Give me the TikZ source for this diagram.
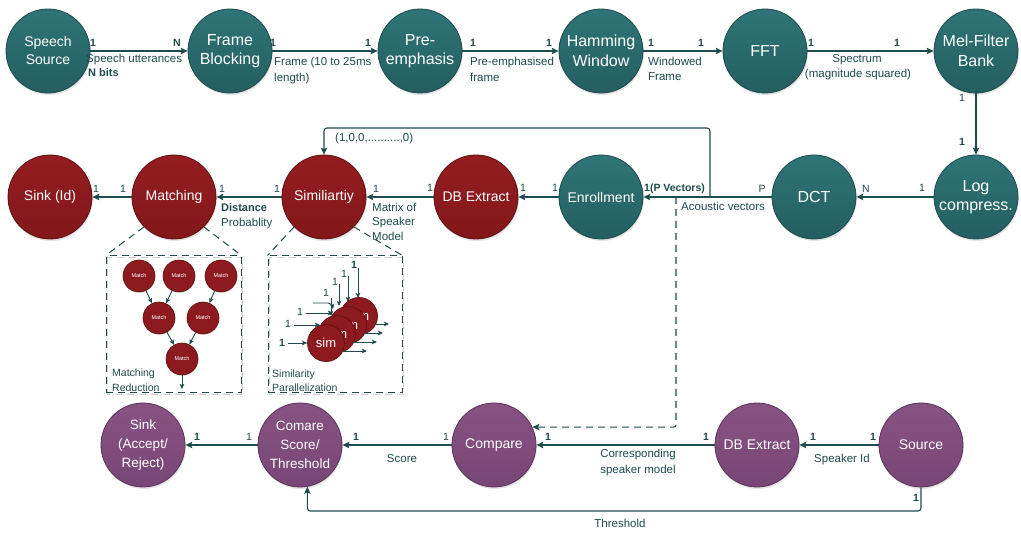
\documentclass[tikz,border=0pt]{standalone}
\usepackage{fontspec}
\setmainfont{Liberation Sans}
\usetikzlibrary{arrows.meta,shadows}
\definecolor{tealtop}{HTML}{2F7577}
\definecolor{tealbot}{HTML}{245E60}
\definecolor{tealedge}{HTML}{1D4A4C}
\definecolor{redtop}{HTML}{941D21}
\definecolor{redbot}{HTML}{82171A}
\definecolor{redfill}{HTML}{8C1A1E}
\definecolor{rededge}{HTML}{5E1013}
\definecolor{purptop}{HTML}{875383}
\definecolor{purpbot}{HTML}{784676}
\definecolor{purpedge}{HTML}{5A3359}
\definecolor{ink}{HTML}{1E4B4D}
\begin{document}
\begin{tikzpicture}[x=1pt,y=-1pt,
  bubble/.style={circle, minimum size=84pt, inner sep=0pt, line width=0.8pt,
    text=white, align=center,
    drop shadow={opacity=0.22, shadow xshift=0.8pt, shadow yshift=-2pt}},
  tealnode/.style={bubble, top color=tealtop, bottom color=tealbot, draw=tealedge},
  rednode/.style={bubble, top color=redtop, bottom color=redbot, draw=rededge},
  purpnode/.style={bubble, top color=purptop, bottom color=purpbot, draw=purpedge},
  big/.style={font=\fontsize{16}{19.5}\selectfont},
  mid/.style={font=\fontsize{14}{18}\selectfont},
  sml/.style={font=\fontsize{13.5}{19}\selectfont},
  flow/.style={draw=ink, line width=1.1pt, rounded corners=3pt,
    -{Stealth[length=7pt,width=6.5pt,inset=1.5pt]}},
  miniflow/.style={draw=ink, line width=0.9pt,
    -{Stealth[length=5pt,width=4.5pt,inset=1pt]}},
  guide/.style={draw=ink, line width=1pt, dash pattern=on 7pt off 5pt},
  insetbox/.style={draw=ink, line width=1pt, dash pattern=on 7pt off 5pt,
    inner sep=0pt},
  lbl/.style={text=ink, font=\fontsize{11.5}{14}\selectfont, inner sep=0pt,
    anchor=west, text height=8.5pt, text depth=0pt},
  clbl/.style={lbl, anchor=center},
  num/.style={text=ink, font=\bfseries\fontsize{10.5}{12}\selectfont,
    inner sep=0pt, text height=7.5pt, text depth=0pt},
  numl/.style={num, font=\fontsize{10.5}{12}\selectfont},
  matchnode/.style={circle, minimum size=32pt, inner sep=0pt, fill=redfill,
    draw=rededge, line width=0.6pt, text=white, font=\fontsize{5.5}{6}\selectfont,
    drop shadow={opacity=0.2, shadow xshift=0.5pt, shadow yshift=-1pt}},
  simnode/.style={circle, minimum size=37pt, inner sep=0pt, fill=redfill,
    draw=rededge, line width=0.7pt, text=white, font=\fontsize{13}{14}\selectfont,
    drop shadow={opacity=0.2, shadow xshift=0.5pt, shadow yshift=-1pt}},
]
\useasboundingbox (0,0) rectangle (1021,534);
\fill[white] (0,0) rectangle (1021,534);

% ---------- feature extraction chain (top row) ----------
\node[tealnode, mid] (ss)  at (48,51)  {Speech\\Source};
\node[tealnode, big] (fb)  at (230,51) {Frame\\Blocking};
\node[tealnode, big] (pe)  at (420,51) {Pre-\\emphasis};
\node[tealnode, big] (hw)  at (601,51) {Hamming\\Window};
\node[tealnode, big] (fft) at (765,51) {FFT};
\node[tealnode, big] (mel) at (976,51) {Mel-Filter\\Bank};

% ---------- identification chain (middle row) ----------
\node[tealnode, big] (logc) at (976,197) {Log\\compress.};
\node[tealnode, big] (dct)  at (814,197) {DCT};
\node[tealnode, mid] (enr)  at (601,197) {Enrollment};
\node[rednode, mid]  (dbx)  at (476,197) {DB Extract};
\node[rednode, mid]  (sim)  at (324,197) {Similiartiy};
\node[rednode, mid]  (mat)  at (174,197) {Matching};
\node[rednode, mid]  (sink) at (50,197)  {Sink (Id)};

% ---------- verification chain (bottom row) ----------
\node[purpnode, mid] (src) at (921,445) {Source};
\node[purpnode, mid] (dbs) at (757,445) {DB Extract};
\node[purpnode, mid] (cmp) at (494,445) {Compare};
\node[purpnode, sml] (thr) at (300,445) {Comare\\Score/\\Threshold};
\node[purpnode, sml] (acc) at (143,445) {Sink\\(Accept/\\Reject)};

% ---------- top row connectors ----------
\draw[flow] (ss) -- (fb);
\draw[flow] (fb) -- (pe);
\draw[flow] (pe) -- (hw);
\draw[flow] (hw) -- (fft);
\draw[flow] (fft) -- (mel);
\draw[flow] (mel) -- (logc);

\node[num] (n01) at (93,43)  {1};
\node[num] (n02) at (177,43) {N};
\node[num] (n03) at (273,43) {1};
\node[num] (n04) at (368,43) {1};
\node[num] (n05) at (473,43) {1};
\node[num] (n06) at (549,43) {1};
\node[num] (n07) at (651,43) {1};
\node[num] (n08) at (701,43) {1};
\node[num] (n09) at (811,43) {1};
\node[num] (n10) at (897,43) {1};
\node[numl] (n11) at (962,98)  {1};
\node[num] (n12) at (962,142) {1};

\node[lbl] (t01) at (86,58)  {Speech utterances};
\node[lbl, font=\bfseries\fontsize{11}{14}\selectfont] (t02) at (88,72) {N bits};
\node[lbl] (t03) at (274,61) {Frame (10 to 25ms};
\node[lbl] (t04) at (274,77) {length)};
\node[lbl] (t05) at (470,61) {Pre-emphasised};
\node[lbl] (t06) at (470,77) {frame};
\node[lbl] (t07) at (648,61) {Windowed};
\node[lbl] (t08) at (648,76) {Frame};
\node[clbl] (t09) at (857,58) {Spectrum};
\node[clbl] (t10) at (858,73) {(magnitude squared)};

% ---------- middle row connectors ----------
\draw[flow] (logc) -- (dct);
\draw[flow] (dct) -- (enr);
\draw[flow] (enr) -- (dbx);
\draw[flow] (dbx) -- (sim);
\draw[flow] (sim) -- (mat);
\draw[flow] (mat) -- (sink);

\coordinate (jA) at (710,197);
\coordinate (jB) at (676,197);
\draw[flow] (jA) -- (710,128) -| (sim);
\draw[flow, dash pattern=on 7pt off 5pt, rounded corners=2pt] (jB) |- (cmp.25);

\node[numl] (n13) at (922,188) {1};
\node[numl] (n14) at (866,189) {N};
\node[numl] (n15) at (762,189) {P};
\node[num, anchor=west] (n16) at (644,188) {1(P Vectors)};
\node[numl] (n17) at (555,188) {1};
\node[numl] (n18) at (523,188) {1};
\node[numl] (n19) at (430,188) {1};
\node[numl] (n20) at (376,189) {1};
\node[numl] (n21) at (277,189) {1};
\node[numl] (n22) at (222,189) {1};
\node[numl] (n23) at (123,189) {1};
\node[numl] (n24) at (96,189)  {1};

\node[lbl] (t11) at (681,206) {Acoustic vectors};
\node[lbl] (t12) at (335,137) {(1,0,0,..........,0)};
\node[lbl] (t13) at (372,207) {Matrix of};
\node[lbl] (t14) at (372,221) {Speaker};
\node[lbl] (t15) at (372,236) {Model};
\node[lbl, font=\bfseries\fontsize{11}{14}\selectfont] (t16) at (221,207) {Distance};
\node[lbl] (t17) at (221,222) {Probablity};

% ---------- bottom row connectors ----------
\draw[flow] (src) -- (dbs);
\draw[flow] (dbs) -- (cmp);
\draw[flow] (cmp) -- (thr);
\draw[flow] (thr) -- (acc);
\draw[flow] (src) -- (921,511) -| (thr.-80);

\node[num] (n25) at (873,437) {1};
\node[num] (n26) at (813,437) {1};
\node[num] (n27) at (706,437) {1};
\node[num] (n28) at (548,437) {1};
\node[numl] (n29) at (446,437) {1};
\node[num] (n30) at (356,437) {1};
\node[numl] (n31) at (249,437) {1};
\node[num] (n32) at (197,437) {1};
\node[num] (n33) at (916,498) {1};

\node[lbl] (t18) at (814,458) {Speaker Id};
\node[clbl] (t19) at (638,453) {Corresponding};
\node[clbl] (t20) at (638,469) {speaker model};
\node[clbl] (t21) at (402,458) {Score};
\node[clbl] (t22) at (620,523) {Threshold};

% ---------- matching reduction detail ----------
\draw[gray!40, line width=1.6pt, dash pattern=on 7pt off 5pt]
  (107.5,257.5) rectangle (242.5,394.5);
\node[insetbox, minimum width=135pt, minimum height=137pt] (mbox) at (173.5,324.5) {};
\draw[guide] (mat.225) -- (mbox.north west);
\draw[guide] (mat.315) -- (mbox.north east);

\node[matchnode] (m1) at (139,276) {Match};
\node[matchnode] (m2) at (179,276) {Match};
\node[matchnode] (m3) at (221,276) {Match};
\node[matchnode] (m4) at (159,318) {Match};
\node[matchnode] (m5) at (203,318) {Match};
\node[matchnode] (m6) at (182,359) {Match};
\coordinate (mout) at (182,389);
\draw[miniflow] (m1) -- (m4);
\draw[miniflow] (m2) -- (m4);
\draw[miniflow] (m3) -- (m5);
\draw[miniflow] (m4) -- (m6);
\draw[miniflow] (m5) -- (m6);
\draw[miniflow] (m6) -- (mout);
\node[lbl, font=\fontsize{10.5}{12}\selectfont] (t23) at (112,372) {Matching};
\node[lbl, font=\fontsize{10.5}{12}\selectfont] (t24) at (112,387) {Reduction};

% ---------- similarity parallelization detail ----------
\draw[gray!40, line width=1.6pt, dash pattern=on 7pt off 5pt]
  (269.5,257.5) rectangle (403.5,394.5);
\node[insetbox, minimum width=134pt, minimum height=137pt] (sbox) at (335,324.5) {};
\draw[guide] (sim.225) -- (sbox.north west);
\draw[guide] (sim.315) -- (sbox.north east);

% vertical inputs from above
\draw[miniflow] (358,268) -- (358,298);
\draw[miniflow] (348,276) -- (348,302);
\draw[miniflow] (339,284) -- (339,306);
\draw[miniflow] (331,298) -- (331,316);
\node[num] (v4) at (354,265) {1};
\node[numl] (v3) at (344,274) {1};
\node[numl] (v2) at (335,282) {1};
\node[numl] (v1) at (326,293) {1};

% stacked similarity units, back to front
\node[simnode] (s4) at (359,316) {sim};
\node[simnode] (s3) at (348,325) {sim};
\node[simnode] (s2) at (337,334) {sim};
\node[simnode] (s1) at (326,343) {sim};

% horizontal inputs from the left
\node[num]  (h1) at (282,343) {1};
\node[numl] (h2) at (288,324) {1};
\node[numl] (h3) at (300,312) {1};
\draw[miniflow] (h1.east) ++(3,0) -- (s1);
\draw[miniflow] (h2.east) ++(3,1) -- (320,325);
\draw[miniflow] (h3.east) ++(3,1) -- (333,313);
\draw[miniflow] (313,303) -- (328,303) to[out=0,in=100] (333,309);

% outputs to the right
\draw[miniflow] (342,351) -- (367,351);
\draw[miniflow] (353,342) -- (377,342);
\draw[miniflow] (364,333) -- (383,333);
\draw[miniflow] (375,324) -- (389,324);

\node[lbl, font=\fontsize{10.5}{12}\selectfont] (t25) at (272,373) {Similarity};
\node[lbl, font=\fontsize{10.5}{12}\selectfont] (t26) at (272,387) {Parallelization};
\end{tikzpicture}
\end{document}
